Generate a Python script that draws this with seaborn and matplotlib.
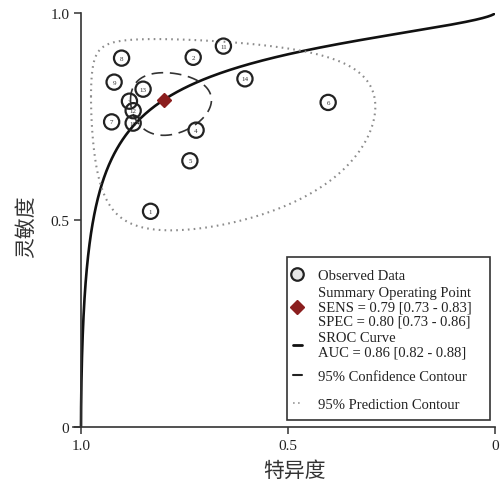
import numpy as np
import matplotlib
matplotlib.use('Agg')
import matplotlib.pyplot as plt
import seaborn as sns
from matplotlib.lines import Line2D
from matplotlib.patches import Rectangle

# study points
study_ids = [1, 2, 3, 4, 5, 6, 7, 8, 9, 10, 11, 12, 13, 14]
specificity = [0.832, 0.729, 0.883, 0.722, 0.737, 0.403, 0.926,
               0.902, 0.920, 0.874, 0.656, 0.874, 0.850, 0.604]
sensitivity = [0.521, 0.893, 0.787, 0.717, 0.643, 0.784, 0.737,
               0.891, 0.833, 0.734, 0.920, 0.764, 0.816, 0.841]

# summary operating point
summary_spec = 0.80
summary_sens = 0.79

# SROC line in logit space: logit(sens) = a + b * logit(1 - spec)
sroc_a = 2.20
sroc_b = 0.63

# contours in logit space (half widths for logit spec / logit sens)
conf_half = [0.61, 0.456]
conf_rho = 0.0
pred_center = [1.40, 1.30]
pred_half = [2.30, 1.40]
pred_rho = 0.05

legend_labels = [
    'Observed Data',
    'Summary Operating Point\nSENS = 0.79 [0.73 - 0.83]\nSPEC = 0.80 [0.73 - 0.86]',
    'SROC Curve\nAUC = 0.86 [0.82 - 0.88]',
    '95% Confidence Contour',
    '95% Prediction Contour',
]


def logit(p):
    return np.log(p / (1 - p))


def logistic(z):
    return 1 / (1 + np.exp(-z))


def contour(cx, cy, half, rho):
    t = np.linspace(0, 2 * np.pi, 400)
    ls = cx + half[0] * np.cos(t)
    le = cy + half[1] * (rho * np.cos(t) + np.sqrt(1 - rho ** 2) * np.sin(t))
    return logistic(ls), logistic(le)


sns.set_style('ticks')
plt.rcParams['font.family'] = ['Liberation Serif', 'DejaVu Serif']

fig = plt.figure(figsize=(5.01, 4.81), dpi=100)
ax = fig.add_axes([73 / 501, 1 - 428 / 481, 422 / 501, 414 / 481])

# SROC curve
z = np.linspace(-25, 6, 1500)
fpr = logistic(z)
sroc_sens = logistic(sroc_a + sroc_b * z)
sns.lineplot(x=1 - fpr, y=sroc_sens, sort=False, estimator=None,
             color='#111111', linewidth=1.9, ax=ax)

# prediction contour
px, py = contour(pred_center[0], pred_center[1], pred_half, pred_rho)
ax.plot(px, py, color='#8c8c8c', linewidth=1.5, linestyle=(0, (0.8, 2.0)))

# confidence contour
cx, cy = contour(logit(summary_spec), logit(summary_sens), conf_half, conf_rho)
ax.plot(cx, cy, color='#333333', linewidth=1.2, linestyle=(0, (7, 4)))

# observed studies
sns.scatterplot(x=specificity, y=sensitivity, s=120, marker='o',
                facecolor='none', edgecolor='#222222', linewidth=1.6,
                ax=ax, zorder=4)
for sid, sp, se in zip(study_ids, specificity, sensitivity):
    ax.text(sp, se, str(sid), ha='center', va='center', fontsize=5,
            color='#333333', zorder=5)

# summary point
ax.plot(summary_spec, summary_sens, marker='D', color='#8b1e1e',
        markersize=7, linestyle='none', zorder=6)

ax.set_xlim(1 + 8 / 414, 0)
ax.set_ylim(0, 1.0)
ax.set_xticks([1.0, 0.5, 0])
ax.set_xticklabels(['1.0', '0.5', '0'])
ax.set_yticks([0, 0.5, 1.0])
ax.set_yticklabels(['0', '0.5', '1.0'])
ax.tick_params(labelsize=11, length=5, width=1.1, colors='#333333',
               labelcolor='#222222')
ax.spines['left'].set_position(('data', 1.0))
ax.spines['top'].set_visible(False)
ax.spines['right'].set_visible(False)
for s in ['left', 'bottom']:
    ax.spines[s].set_linewidth(1.2)
    ax.spines[s].set_color('#333333')

ax.set_xlabel('特异度', family=['Noto Sans CJK SC'], fontsize=15,
              color='#333333', va='center')
ax.set_ylabel('灵敏度', family=['Noto Sans CJK SC'], fontsize=15,
              color='#333333', va='center')
ax.xaxis.set_label_coords(0.526, -0.104)
ax.yaxis.set_label_coords(-0.112, 0.487)

handles = [
    Line2D([], [], marker='o', linestyle='none', markerfacecolor='#e6e6e6',
           markeredgecolor='#222222', markersize=9, markeredgewidth=1.6),
    Line2D([], [], marker='D', linestyle='none', color='#8b1e1e', markersize=7),
    Line2D([], [], color='#111111', linewidth=2),
    Line2D([], [], color='#222222', linewidth=1.5),
    Line2D([], [], color='#999999', linewidth=1.2, linestyle=(0, (1, 2))),
]

# legend frame, drawn once behind two stacked legend blocks
frame = Rectangle((0.507, 0.017), 0.481, 0.394, transform=ax.transAxes,
                  facecolor='white', edgecolor='#333333', linewidth=1.2,
                  zorder=7)
ax.add_patch(frame)

leg_kw = dict(fontsize=10.5, frameon=False, handlelength=0.6,
              handletextpad=1.1, borderpad=0.4, borderaxespad=0)
leg_top = ax.legend(handles[:3], legend_labels[:3], loc='upper left',
                    bbox_to_anchor=(0.507, 0.396), labelspacing=0.3,
                    **leg_kw)
ax.add_artist(leg_top)
leg_bottom = ax.legend(handles[3:], legend_labels[3:], loc='lower left',
                       bbox_to_anchor=(0.507, 0.024), labelspacing=1.0,
                       **leg_kw)
for leg in (leg_top, leg_bottom):
    leg.set_zorder(8)
    for t in leg.get_texts():
        t.set_linespacing(1.08)
        t.set_color('#222222')

fig.savefig('out.png', dpi=100)
